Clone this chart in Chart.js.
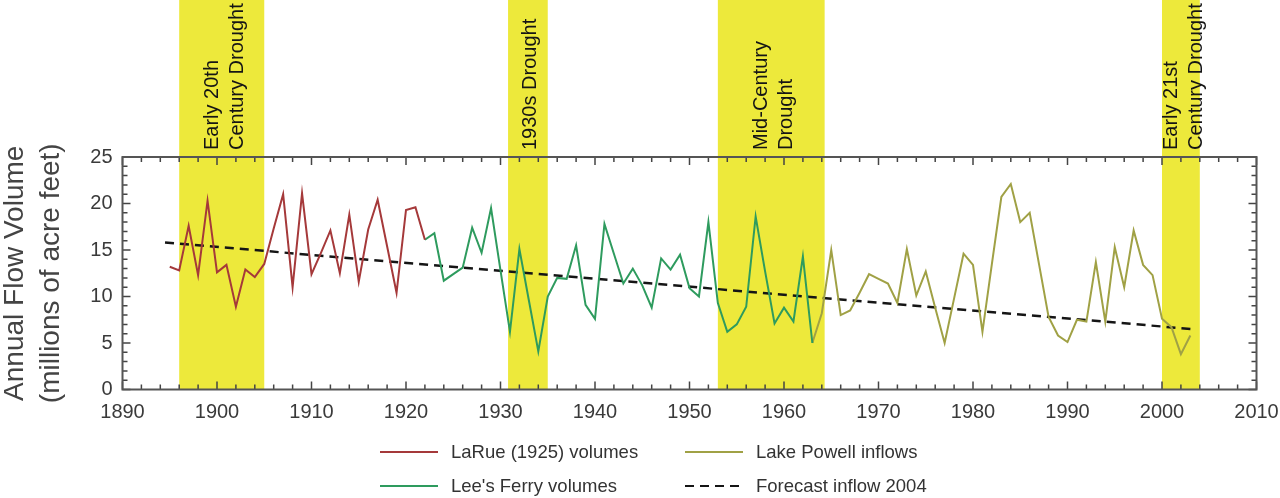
<!DOCTYPE html>
<html>
<head>
<meta charset="utf-8">
<script src="https://cdn.jsdelivr.net/npm/chart.js@4/dist/chart.umd.min.js"></script>
<style>
  html, body { margin: 0; padding: 0; background: #fff; }
  #wrap { position: relative; width: 1280px; height: 498px; overflow: hidden; }
  #c { position: absolute; left: 0; top: 0; }
  #legend { position: absolute; left: 380px; top: 435px; display: grid;
            grid-template-columns: 305px 300px; grid-auto-rows: 34px;
            font-family: "Liberation Sans", Arial, sans-serif; font-size: 18.5px; color: #333; }
  .item { display: flex; align-items: center; white-space: nowrap; }
  .sw { width: 58px; height: 2px; margin-right: 13px; }
</style>
</head>
<body>
<div id="wrap">
  <canvas id="c" width="1280" height="498"></canvas>
  <div id="legend"></div>
</div>
<script>
// ---- data ----
const laRueYears = [1895,1896,1897,1898,1899,1900,1901,1902,1903,1904,1905,1906,1907,1908,1909,1910,1911,1912,1913,1914,1915,1916,1917,1918,1919,1920,1921,1922];
const laRueValues = [13.2,12.8,17.6,12.3,20.3,12.6,13.4,8.9,12.9,12.1,13.5,17.3,21.0,11.0,21.1,12.4,14.7,17.1,12.5,18.8,11.6,17.2,20.4,15.4,10.4,19.3,19.6,16.1];

const leesFerryYears = [1922,1923,1924,1925,1926,1927,1928,1929,1930,1931,1932,1933,1934,1935,1936,1937,1938,1939,1940,1941,1942,1943,1944,1945,1946,1947,1948,1949,1950,1951,1952,1953,1954,1955,1956,1957,1958,1959,1960,1961,1962,1963];
const leesFerryValues = [16.1,16.8,11.7,12.4,13.1,17.4,14.7,19.5,12.8,6.2,15.1,9.6,4.1,10.0,12.0,11.9,15.5,9.1,7.6,17.8,14.6,11.4,13.0,11.2,8.8,14.1,12.9,14.5,10.9,10.0,18.0,9.3,6.2,7.0,8.9,18.6,12.7,7.1,8.8,7.3,14.3,5.0];

const powellYears = [1963,1964,1965,1966,1967,1968,1969,1970,1971,1972,1973,1974,1975,1976,1977,1978,1979,1980,1981,1982,1983,1984,1985,1986,1987,1988,1989,1990,1991,1992,1993,1994,1995,1996,1997,1998,1999,2000,2001,2002,2003];
const powellValues = [5.0,8.2,15.0,8.0,8.5,10.4,12.4,11.9,11.4,9.3,15.1,10.1,12.7,8.8,5.0,9.8,14.6,13.4,6.2,13.5,20.7,22.1,18.0,19.0,13.4,7.8,5.8,5.1,7.5,7.3,13.7,7.3,15.3,11.0,17.1,13.4,12.3,7.6,6.7,3.8,5.8];

const forecastYears = [1894.5, 2003.2];
const forecastValues = [15.8, 6.5];

const droughtStarts = [1896, 1930.8, 1953, 2000];
const droughtEnds = [1905, 1935, 1964.3, 2004];
const droughtLabels = [["Early 20th","Century Drought"],["1930s Drought"],["Mid-Century","Drought"],["Early 21st","Century Drought"]];

const xTickMin = 1890, xTickMax = 2010, xTickStep = 10;
const yTickMin = 0, yTickMax = 25, yTickStep = 5;
const yTitle = ["Annual Flow Volume", "(millions of acre feet)"];
const seriesLabels = ["LaRue (1925) volumes", "Lee's Ferry volumes", "Lake Powell inflows", "Forecast inflow 2004"];
const legendOrder = [0, 2, 1, 3];

const pts = (xs, ys) => xs.map((x, i) => ({x, y: ys[i]}));

const FONT = '"Liberation Sans", Arial, sans-serif';

const bandsPlugin = {
  id: 'bands',
  beforeDatasetsDraw(chart) {
    const {ctx, chartArea, scales: {x}} = chart;
    ctx.save();
    ctx.fillStyle = '#EDE93B';
    droughtStarts.forEach((s, i) => {
      const x0 = x.getPixelForValue(s), x1 = x.getPixelForValue(droughtEnds[i]);
      ctx.fillRect(x0, 0, x1 - x0, chartArea.bottom);
    });
    ctx.fillStyle = '#151515';
    ctx.font = '20px ' + FONT;
    ctx.textAlign = 'left';
    ctx.textBaseline = 'middle';
    const lh = 25;
    droughtStarts.forEach((s, i) => {
      const cx = (x.getPixelForValue(s) + x.getPixelForValue(droughtEnds[i])) / 2;
      const lines = droughtLabels[i];
      lines.forEach((t, j) => {
        const off = (j - (lines.length - 1) / 2) * lh;
        ctx.save();
        ctx.translate(cx + off + 3, 150);
        ctx.rotate(-Math.PI / 2);
        ctx.fillText(t, 0, 0);
        ctx.restore();
      });
    });
    ctx.restore();
  },
  afterDatasetsDraw(chart) {
    const {ctx, chartArea: a, scales: {x, y}} = chart;
    ctx.save();
    ctx.strokeStyle = '#444';
    ctx.lineWidth = 1.5;
    ctx.beginPath();
    for (let yr = xTickMin; yr <= xTickMax; yr += 2) {
      const px = x.getPixelForValue(yr);
      const len = yr % 10 === 0 ? 8 : 5;
      ctx.moveTo(px, a.bottom); ctx.lineTo(px, a.bottom - len);
      ctx.moveTo(px, a.top); ctx.lineTo(px, a.top + len);
    }
    for (let v = yTickMin; v <= yTickMax; v += 1) {
      const py = y.getPixelForValue(v);
      const len = v % 5 === 0 ? 8 : 5;
      ctx.moveTo(a.left, py); ctx.lineTo(a.left + len, py);
      ctx.moveTo(a.right, py); ctx.lineTo(a.right - len, py);
    }
    ctx.stroke();
    ctx.strokeStyle = '#555';
    ctx.lineWidth = 2;
    ctx.strokeRect(a.left, a.top, a.right - a.left, a.bottom - a.top);
    ctx.restore();
  }
};

const chart = new Chart(document.getElementById('c'), {
  type: 'line',
  data: {
    datasets: [
      {label: seriesLabels[0], data: pts(laRueYears, laRueValues), borderColor: '#A5393A', borderWidth: 2},
      {label: seriesLabels[1], data: pts(leesFerryYears, leesFerryValues), borderColor: '#2E9B5E', borderWidth: 2},
      {label: seriesLabels[2], data: pts(powellYears, powellValues), borderColor: '#A0A145', borderWidth: 2},
      {label: seriesLabels[3], data: pts(forecastYears, forecastValues), borderColor: '#151515', borderWidth: 2.5, borderDash: [9, 6]}
    ]
  },
  options: {
    responsive: false,
    animation: false,
    devicePixelRatio: 1,
    elements: {point: {radius: 0}, line: {tension: 0}},
    layout: {padding: {top: 157, right: 23.5, bottom: 0, left: 0}},
    plugins: {legend: {display: false}, tooltip: {enabled: false}},
    scales: {
      x: {
        type: 'linear', min: xTickMin, max: xTickMax,
        grid: {display: false, drawTicks: false}, border: {display: false},
        ticks: {stepSize: xTickStep, padding: 11, color: '#3a3a3a', font: {family: FONT, size: 20}, callback: v => String(v)},
        afterFit(s) { s.height = 108.5; s.paddingLeft = 0; s.paddingRight = 0; }
      },
      y: {
        min: yTickMin, max: yTickMax,
        grid: {display: false, drawTicks: false}, border: {display: false},
        ticks: {stepSize: yTickStep, padding: 10, color: '#3a3a3a', font: {family: FONT, size: 20}},
        title: {display: true, text: yTitle, color: '#444', font: {family: FONT, size: 28, lineHeight: 1.3}, padding: {top: -3, bottom: 0}},
        afterFit(s) { s.width = 122.5; s.paddingTop = 0; s.paddingBottom = 0; }
      }
    }
  },
  plugins: [bandsPlugin]
});

// HTML legend built from the datasets
const leg = document.getElementById('legend');
legendOrder.forEach(i => {
  const ds = chart.data.datasets[i];
  const item = document.createElement('div');
  item.className = 'item';
  const sw = document.createElement('div');
  sw.className = 'sw';
  if (ds.borderDash) {
    sw.style.background = `repeating-linear-gradient(90deg, ${ds.borderColor} 0 9px, transparent 9px 15px)`;
  } else {
    sw.style.background = ds.borderColor;
  }
  item.appendChild(sw);
  const tx = document.createElement('span');
  tx.textContent = ds.label;
  item.appendChild(tx);
  leg.appendChild(item);
});
</script>
</body>
</html>
